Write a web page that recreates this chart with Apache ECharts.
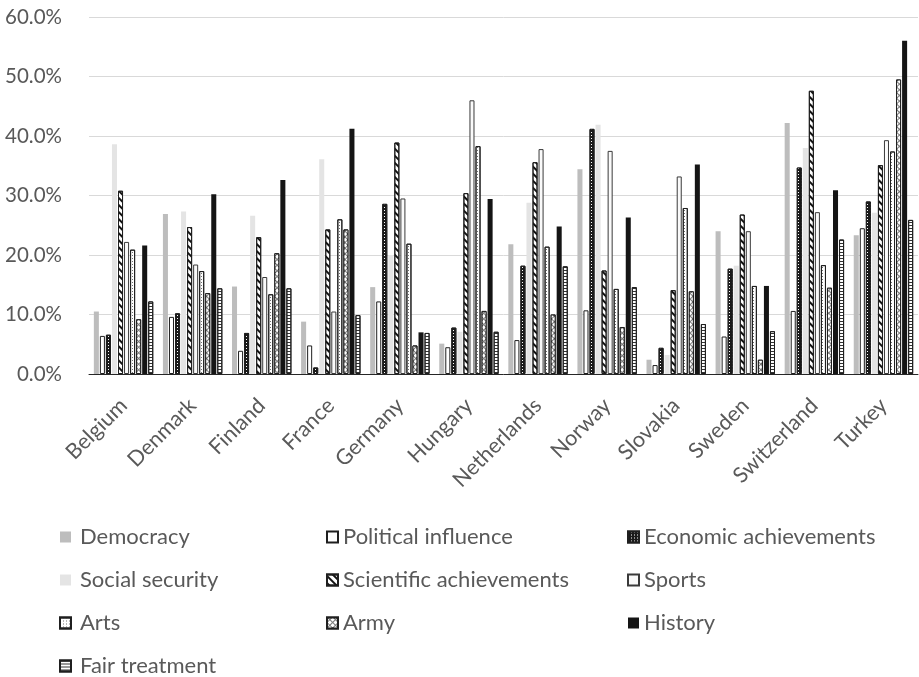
<!DOCTYPE html>
<html>
<head>
<meta charset="utf-8">
<script src="https://cdn.jsdelivr.net/npm/echarts@6/dist/echarts.min.js"></script>
<style>
  html, body { margin: 0; padding: 0; background: #fff; }
  #chart { width: 919px; height: 677px; }
</style>
</head>
<body>
<div id="chart"></div>
<script>
// Countries on the category axis
const countries = ['Belgium', 'Denmark', 'Finland', 'France', 'Germany', 'Hungary',
  'Netherlands', 'Norway', 'Slovakia', 'Sweden', 'Switzerland', 'Turkey'];

// Share of respondents (%) per source of national pride
const democracy    = [10.5, 26.9, 14.7,  8.8, 14.6,  5.1, 21.8, 34.4,  2.4, 24.0, 42.2, 23.3];
const political    = [ 6.4,  9.6,  3.9,  4.8, 12.2,  4.5,  5.7, 10.7,  1.5,  6.3, 10.6, 24.5];
const economic     = [ 6.6, 10.2,  6.9,  1.1, 28.6,  7.8, 18.2, 41.2,  4.4, 17.7, 34.7, 29.0];
const social       = [38.6, 27.3, 26.6, 36.1, 20.0,  7.1, 28.8, 41.9,  3.2, 18.2, 38.0, 27.1];
const scientific   = [30.8, 24.7, 23.0, 24.3, 38.9, 30.4, 35.6, 17.4, 14.1, 26.8, 47.6, 35.1];
const sports       = [22.2, 18.4, 16.3, 10.5, 29.5, 46.0, 37.8, 37.5, 33.2, 24.0, 27.2, 39.3];
const arts         = [20.9, 17.3, 13.4, 26.0, 21.9, 38.3, 21.4, 14.3, 27.9, 14.8, 18.3, 37.4];
const army         = [ 9.2, 13.6, 20.3, 24.3,  4.8, 10.6, 10.0,  7.9, 13.9,  2.4, 14.5, 49.5];
const history      = [21.6, 30.2, 32.6, 41.2,  7.0, 29.4, 24.8, 26.3, 35.2, 14.8, 30.9, 56.0];
const fairTreat    = [12.2, 14.4, 14.4,  9.9,  6.9,  7.1, 18.1, 14.6,  8.4,  7.2, 22.6, 25.9];

// Value axis ticks
const yTicks = [0, 10, 20, 30, 40, 50, 60];

const FONT = 'Lato, "Open Sans", sans-serif';
const TEXT = '#595959';
const EDGE = '#1f1f1f';

function bar(name, data, itemStyle) {
  return { name, type: 'bar', data, itemStyle, barGap: '20%', barCategoryGap: '14%' };
}

const series = [
  bar('Democracy', democracy, { color: '#bdbdbd' }),
  bar('Political influence', political, { color: '#ffffff', borderColor: EDGE, borderWidth: 1 }),
  bar('Economic achievements', economic, {
    color: '#1a1a1a', borderColor: EDGE, borderWidth: 1,
    decal: { symbol: 'rect', symbolSize: 1, color: '#ffffff', dashArrayX: [1, 2], dashArrayY: [1, 2] }
  }),
  bar('Social security', social, { color: '#e4e4e4' }),
  bar('Scientific achievements', scientific, {
    color: '#ffffff', borderColor: EDGE, borderWidth: 1,
    decal: { symbol: 'rect', symbolSize: 1, color: '#111111', dashArrayX: [1, 0], dashArrayY: [2, 2.5], rotation: Math.PI / 4 }
  }),
  bar('Sports', sports, { color: '#fafafa', borderColor: '#3a3a3a', borderWidth: 1 }),
  bar('Arts', arts, {
    color: '#ffffff', borderColor: EDGE, borderWidth: 1,
    decal: { symbol: 'rect', symbolSize: 1, color: '#707070', dashArrayX: [1, 1.5], dashArrayY: [1, 1.5] }
  }),
  bar('Army', army, {
    color: '#7a7a7a', borderColor: EDGE, borderWidth: 1,
    decal: { symbol: 'rect', symbolSize: 1, color: '#ffffff', dashArrayX: [3, 1], dashArrayY: [3, 1], rotation: Math.PI / 4 }
  }),
  bar('History', history, { color: '#151515' }),
  bar('Fair treatment', fairTreat, {
    color: '#ffffff', borderColor: EDGE, borderWidth: 1,
    decal: { symbol: 'rect', symbolSize: 1, color: '#333333', dashArrayX: [1, 0], dashArrayY: [1, 1.4] }
  })
];

// One legend block per column; rows are 43px apart
function legendColumn(left, gap, names) {
  return {
    orient: 'vertical', left, top: 526, padding: 0, height: 151,
    itemWidth: 11, itemHeight: 11, itemGap: 21,
    icon: 'rect', data: names, selectedMode: false,
    textStyle: { fontFamily: FONT, fontSize: 22, color: TEXT, padding: [0, 0, 0, gap] }
  };
}

const chart = echarts.init(document.getElementById('chart'), null, { renderer: 'canvas' });
chart.setOption({
  animation: false,
  backgroundColor: '#ffffff',
  grid: { left: 89, right: 1, top: 17, bottom: 303, containLabel: false },
  legend: [
    legendColumn(59, 4, ['Democracy', 'Social security', 'Arts', 'Fair treatment']),
    legendColumn(326, 0, ['Political influence', 'Scientific achievements', 'Army']),
    legendColumn(627, 0, ['Economic achievements', 'Sports', 'History'])
  ],
  xAxis: {
    type: 'category',
    data: countries,
    axisLine: { lineStyle: { color: '#262626', width: 1 } },
    axisTick: { show: false },
    axisLabel: { rotate: 45, margin: 28, fontFamily: FONT, fontSize: 21.5, color: TEXT, interval: 0 }
  },
  yAxis: {
    type: 'value',
    min: yTicks[0],
    max: yTicks[yTicks.length - 1],
    interval: yTicks[1] - yTicks[0],
    axisLine: { show: false },
    axisTick: { show: false },
    splitLine: { lineStyle: { color: '#d9d9d9', width: 1 } },
    axisLabel: {
      margin: 27, fontFamily: FONT, fontSize: 20.5, color: TEXT,
      formatter: v => v.toFixed(1) + '%'
    }
  },
  series
});
</script>
</body>
</html>
